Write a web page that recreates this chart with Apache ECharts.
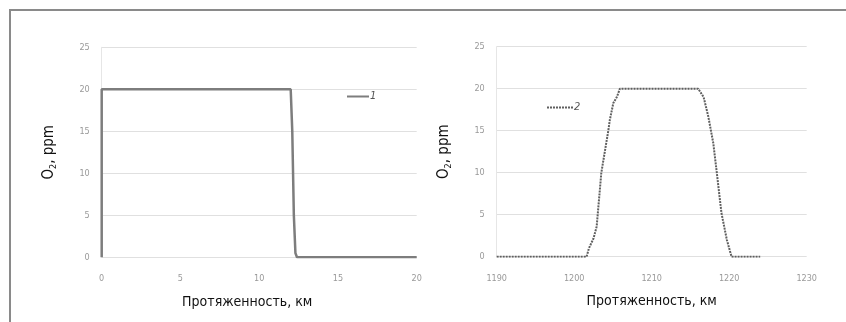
<!DOCTYPE html>
<html><head><meta charset="utf-8">
<script src="https://cdn.jsdelivr.net/npm/echarts@6/dist/echarts.min.js"></script>
<style>html,body{margin:0;padding:0;background:#fff}#c{width:846px;height:322px}</style>
</head><body><div id="c"></div>
<script>
var xNameLabel = 'Протяженность, км';
var leftX = [0, 0, 12, 12.1, 12.2, 12.3, 12.4, 14, 16, 18, 20];
var leftY = [0, 20, 20, 15, 5, 0.5, 0, 0, 0, 0, 0];
var rightX = [1190, 1195, 1201.6, 1201.9, 1202.5, 1202.9, 1203.5, 1204.4, 1204.6, 1205.05, 1205.5, 1205.9, 1210, 1216, 1216.7, 1217.3, 1217.95, 1218.4, 1219.0, 1219.7, 1220.3, 1222, 1224];
var rightY = [0, 0, 0, 1, 2.2, 3.6, 10, 15, 16.3, 18.3, 19, 20, 20, 20, 19, 16.7, 13.5, 10, 5.2, 2, 0, 0, 0];
var leftTicks = {min: 0, max: 20, interval: 5};
var rightTicks = {min: 1190, max: 1230, interval: 10};
var yTicks = {min: 0, max: 25, interval: 5};
var seriesNames = ['1', '2'];

var FONT = "'DejaVu Sans Condensed', 'Liberation Sans Narrow', Roboto, sans-serif";
function pairs(xs, ys){ return xs.map(function(x,i){return [x, ys[i]];}); }
var chart = echarts.init(document.getElementById('c'), null, {renderer:'canvas'});
var tickLabel = {color:'#999', fontSize:9, fontFamily:FONT, formatter:function(v){return String(v);}};
function yAxis(gi){
  return {type:'value', gridIndex:gi, min:yTicks.min, max:yTicks.max, interval:yTicks.interval,
    name:'O{s|2}, ppm', nameLocation:'middle', nameGap:44, nameRotate:90,
    nameTextStyle:{fontFamily:FONT, fontSize:15, color:'#111', rich:{s:{fontFamily:FONT, fontSize:9, color:'#111', verticalAlign:'bottom', padding:[8,0,0,0]}}},
    axisLine:{show:true, lineStyle:{color:'#e6e6e6', width:1}}, axisTick:{show:false},
    axisLabel:Object.assign({margin:12}, tickLabel),
    splitLine:{show:true, lineStyle:{color:'#e0e0e0', width:1}}};
}
function xAxis(gi, t, pad){
  return {type:'value', gridIndex:gi, min:t.min, max:t.max, interval:t.interval,
    name:xNameLabel, nameLocation:'middle', nameGap:38,
    nameTextStyle:{fontFamily:FONT, fontSize:14, color:'#111', padding:pad},
    axisLine:{show:false}, axisTick:{show:false},
    axisLabel:Object.assign({margin:17}, tickLabel), splitLine:{show:false}};
}
var legendText = {fontStyle:'italic', fontFamily:FONT, fontSize:11, color:'#555', padding:[0,0,0,-4]};
chart.setOption({
  animation:false,
  backgroundColor:'#fff',
  grid:[{left:101.7, right:429.3, top:47.3, bottom:64.7},{left:496.7, right:39.3, top:46.7, bottom:65.3}],
  xAxis:[xAxis(0, leftTicks, [0,24,0,0]), xAxis(1, rightTicks, [0,0,0,0])],
  yAxis:[yAxis(0), yAxis(1)],
  legend:[
    {data:[seriesNames[0]], left:341, top:86, itemWidth:22, itemHeight:10, itemGap:2, itemStyle:{opacity:0}, textStyle:legendText},
    {data:[seriesNames[1]], left:541, top:97, itemWidth:26, itemHeight:10, itemGap:2, itemStyle:{opacity:0}, textStyle:legendText}
  ],
  graphic:[
    {type:'line', shape:{x1:9, y1:10, x2:846, y2:10}, style:{stroke:'#8a8a8a', lineWidth:2}},
    {type:'line', shape:{x1:10, y1:9, x2:10, y2:322}, style:{stroke:'#8a8a8a', lineWidth:2}}
  ],
  series:[
    {name:seriesNames[0], type:'line', xAxisIndex:0, yAxisIndex:0, data:pairs(leftX, leftY), symbol:'none',
     lineStyle:{color:'#7d7d7d', width:2.5}, itemStyle:{color:'#7d7d7d'}},
    {name:seriesNames[1], type:'line', xAxisIndex:1, yAxisIndex:1, data:pairs(rightX, rightY), symbol:'none',
     lineStyle:{color:'#5f5f5f', width:2, type:[2,1]}, itemStyle:{color:'#5f5f5f'}}
  ]
});
</script></body></html>
